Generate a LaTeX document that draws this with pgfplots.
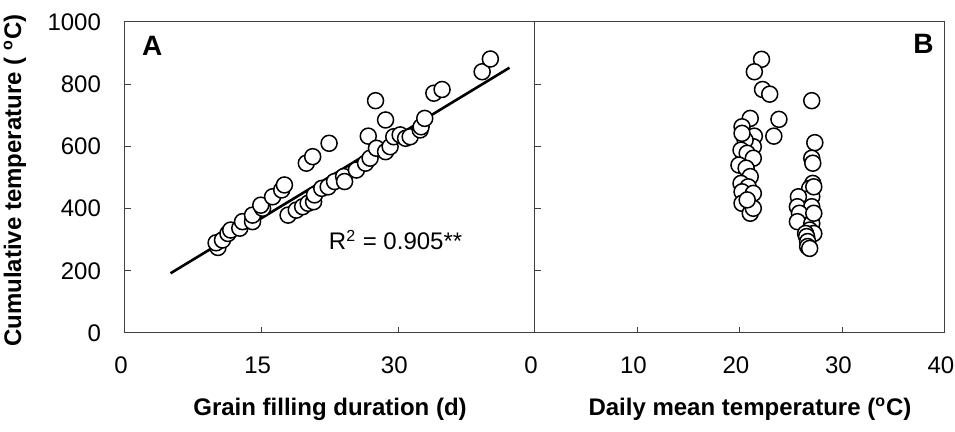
\documentclass[border=0pt]{standalone}
\usepackage{fontspec}
\setmainfont{Liberation Sans}
\usepackage{pgfplots}
\pgfplotsset{compat=1.18}

\pgfplotsset{
  panel/.style={
    scale only axis, height=155.5pt,
    ymin=0, ymax=1000, ytick={0,200,...,1000},
    xtick pos=left, ytick pos=left,
    tick align=inside, major tick length=3pt,
    axis line style={line width=0.5pt, black!75},
    every tick/.style={black!75, line width=0.5pt},
    tick label style={font=\fontsize{12}{14}\selectfont},
    /pgf/number format/assume math mode=true,
    /pgf/number format/1000 sep={},
    xticklabel style={yshift=-8.5pt, xshift=-2pt},
    yticklabel style={xshift=-8.5pt},
    label style={font=\bfseries\fontsize{12}{14}\selectfont},
    xlabel style={at={(axis description cs:0.5,0)}, anchor=center, yshift=-38pt},
    ylabel style={at={(axis description cs:0,0.49)}, anchor=center, yshift=55pt},
  },
  circ/.style={only marks, mark=*, mark size=4pt,
    mark options={fill=white, draw=black, line width=0.75pt}},
}

\pgfplotstableread{
x y
10.2 275
10.0 290
10.7 299
11.3 320
11.6 331
12.6 337
12.9 358
14.0 358
14.0 379
15.1 401
14.9 411
16.2 438
17.2 460
17.5 476
17.9 379
18.8 395
19.5 406
20.1 417
20.7 422
20.8 444
19.9 546
20.6 567
22.4 610
21.6 465
22.3 470
23.0 487
24.0 503
24.1 487
25.4 524
26.4 546
26.9 562
26.7 633
27.5 747
27.6 594
28.6 685
28.6 583
29.1 599
29.5 631
30.2 637
30.8 626
31.3 631
32.4 653
32.5 663
32.9 690
33.9 771
34.8 783
39.2 840
40.1 881
}\tblA

\pgfplotstableread{
x y
22.1 880
21.4 840
22.2 783
22.9 768
27.0 747
23.8 687
23.3 633
21.0 690
20.2 663
21.4 633
21.3 599
20.5 620
20.2 642
20.1 588
20.7 578
21.3 562
19.9 540
20.6 530
21.0 503
20.1 481
20.8 470
20.2 454
21.3 449
20.2 417
21.0 385
21.3 401
20.7 428
27.3 612
27.0 562
27.1 546
27.1 481
26.8 465
27.0 438
25.7 438
25.6 406
27.0 406
25.8 385
25.6 358
27.0 352
26.8 331
27.2 320
26.4 320
26.5 310
26.6 294
26.6 278
26.8 272
27.2 385
27.2 470
}\tblB

\begin{document}
\begin{tikzpicture}
\path[use as bounding box] (-62.5pt,-49.5pt) rectangle (415pt,166.5pt);
\begin{axis}[panel, name=A, at={(0,0)}, anchor=south west,
  width=205pt, xmin=0, xmax=45, xtick={0,15,30},
  xlabel={Grain filling duration (d)},
  ylabel={Cumulative temperature ( \textsuperscript{o}C)}]
\addplot[black, line width=1.3pt] coordinates {(5.0,192) (42.2,853)};
\addplot[circ] table[x=x,y=y] {\tblA};
\node[font=\bfseries\fontsize{14}{16}\selectfont] at (axis cs:3.0,923) {A};
\node[font=\fontsize{12}{14}\selectfont] at (axis cs:29.7,299) {R\textsuperscript{2} = 0.905**};
\end{axis}
\begin{axis}[panel, at={(A.south east)}, anchor=south west,
  width=205pt, xmin=0, xmax=40, xtick={0,10,...,40}, yticklabels={},
  xlabel={Daily mean temperature (\textsuperscript{o}C)},
  xlabel style={xshift=5pt}]
\addplot[circ] table[x=x,y=y] {\tblB};
\node[font=\bfseries\fontsize{14}{16}\selectfont] at (axis cs:37.9,929) {B};
\end{axis}
\end{tikzpicture}
\end{document}
